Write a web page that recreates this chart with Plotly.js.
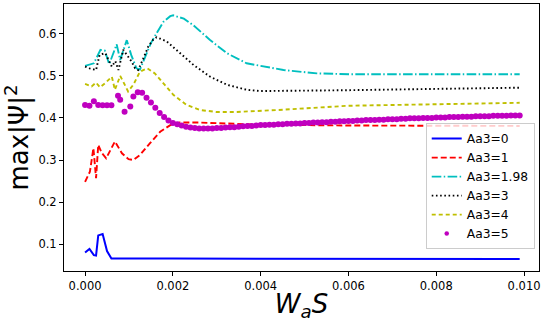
<!DOCTYPE html>
<html>
<head>
<meta charset="utf-8">
<script src="https://cdn.plot.ly/plotly-3.0.1.min.js"></script>
<style>
  html, body { margin: 0; padding: 0; background: #fff; }
  #plot { width: 546px; height: 322px; }
</style>
</head>
<body>
<div id="plot"></div>
<script>
// Aa3 = 0
var x0 = [0, 0.0001, 0.0002, 0.00025, 0.0003, 0.0004, 0.0005, 0.0006, 0.002, 0.005, 0.0099];
var y0 = [0.080, 0.0886, 0.0738, 0.0726, 0.1207, 0.124, 0.0833, 0.0658, 0.0655, 0.065, 0.0645];

// Aa3 = 1
var x1 = [0, 0.00011, 0.00019, 0.00025, 0.0003, 0.00038, 0.00048, 0.00068, 0.00084, 0.00099,
  0.0011, 0.00125, 0.00148, 0.00171, 0.00194, 0.00216, 0.0026, 0.004, 0.006, 0.0099];
var y1 = [0.248, 0.272, 0.328, 0.257, 0.336, 0.317, 0.304, 0.344, 0.316, 0.302,
  0.300, 0.312, 0.340, 0.367, 0.383, 0.389, 0.389, 0.384, 0.382, 0.381];

// Aa3 = 1.98
var x2 = [0, 0.0002, 0.00035, 0.00045, 0.00055, 0.00072, 0.0008, 0.00095, 0.00105, 0.00117,
  0.00125, 0.00137, 0.0015, 0.00162, 0.00178, 0.00194, 0.00201, 0.00225, 0.00246, 0.00284,
  0.00323, 0.00368, 0.00452, 0.00528, 0.00603, 0.0099];
var y2 = [0.524, 0.530, 0.562, 0.560, 0.528, 0.575, 0.538, 0.585, 0.550, 0.518,
  0.515, 0.545, 0.578, 0.600, 0.628, 0.642, 0.644, 0.636, 0.621, 0.586,
  0.554, 0.530, 0.514, 0.506, 0.504, 0.504];

// Aa3 = 3
var x3 = [0, 0.0001, 0.00025, 0.00033, 0.00046, 0.00061, 0.00069, 0.00076, 0.00087, 0.00099,
  0.00106, 0.00114, 0.00121, 0.00133, 0.00144, 0.00155, 0.00163, 0.00186, 0.00216, 0.00247,
  0.00285, 0.00323, 0.00368, 0.004, 0.006, 0.0099];
var y3 = [0.522, 0.518, 0.514, 0.550, 0.554, 0.522, 0.535, 0.514, 0.562, 0.545,
  0.534, 0.518, 0.514, 0.542, 0.570, 0.586, 0.592, 0.582, 0.554, 0.526,
  0.498, 0.479, 0.467, 0.464, 0.466, 0.472];

// Aa3 = 4
var x4 = [0, 0.00015, 0.00025, 0.00034, 0.00046, 0.00061, 0.00068, 0.0008, 0.00087, 0.00098,
  0.0011, 0.00125, 0.00142, 0.00159, 0.00178, 0.00201, 0.00231, 0.00262, 0.003, 0.0034,
  0.0044, 0.006, 0.0099];
var y4 = [0.481, 0.475, 0.484, 0.473, 0.483, 0.498, 0.467, 0.500, 0.486, 0.463,
  0.479, 0.510, 0.518, 0.506, 0.483, 0.455, 0.431, 0.419, 0.414, 0.414,
  0.419, 0.429, 0.436];

// Aa3 = 5 (markers)
var x5 = [0, 0.0001, 0.0002, 0.0003, 0.0004, 0.0005, 0.0006, 0.00075, 0.0008, 0.0009,
  0.00103, 0.0011, 0.0012, 0.0013, 0.0014, 0.0015, 0.0016, 0.0017, 0.0018, 0.0019,
  0.0020, 0.0021, 0.0022, 0.0023, 0.0024, 0.0025, 0.0026, 0.0027, 0.0028, 0.0029,
  0.0030, 0.0031, 0.0032, 0.0033, 0.0034, 0.0035, 0.0036, 0.0037, 0.0038, 0.0039,
  0.0040, 0.0041, 0.0042, 0.0043, 0.0044, 0.0045, 0.0046, 0.0047, 0.0048, 0.0049,
  0.0050, 0.0051, 0.0052, 0.0053, 0.0054, 0.0055, 0.0056, 0.0057, 0.0058, 0.0059,
  0.0060, 0.0061, 0.0062, 0.0063, 0.0064, 0.0065, 0.0066, 0.0067, 0.0068, 0.0069,
  0.0070, 0.0071, 0.0072, 0.0073, 0.0074, 0.0075, 0.0076, 0.0077, 0.0078, 0.0079,
  0.0080, 0.0081, 0.0082, 0.0083, 0.0084, 0.0085, 0.0086, 0.0087, 0.0088, 0.0089,
  0.0090, 0.0091, 0.0092, 0.0093, 0.0094, 0.0095, 0.0096, 0.0097, 0.0098, 0.0099];
var y5 = [0.431, 0.429, 0.440, 0.431, 0.430, 0.430, 0.430, 0.453, 0.443, 0.415,
  0.427, 0.451, 0.461, 0.460, 0.448, 0.437, 0.424, 0.412, 0.402, 0.394,
  0.388, 0.385, 0.382, 0.379, 0.377, 0.376, 0.375, 0.375, 0.375, 0.375,
  0.376, 0.376, 0.377, 0.378, 0.378, 0.379, 0.380, 0.381, 0.381, 0.382,
  0.383, 0.383, 0.384, 0.384, 0.385, 0.385, 0.386, 0.386, 0.387, 0.387,
  0.388, 0.388, 0.389, 0.389, 0.390, 0.390, 0.391, 0.391, 0.392, 0.392,
  0.393, 0.393, 0.394, 0.394, 0.395, 0.395, 0.395, 0.396, 0.396, 0.397,
  0.397, 0.397, 0.398, 0.398, 0.399, 0.399, 0.399, 0.400, 0.400, 0.400,
  0.401, 0.401, 0.401, 0.402, 0.402, 0.402, 0.403, 0.403, 0.403, 0.404,
  0.404, 0.404, 0.404, 0.405, 0.405, 0.405, 0.405, 0.406, 0.406, 0.406];

var xTicks = [0, 0.002, 0.004, 0.006, 0.008, 0.010];
var yTicks = [0.1, 0.2, 0.3, 0.4, 0.5, 0.6];

var data = [
  { x: x0, y: y0, name: "Aa3=0", mode: "lines", type: "scatter",
    line: { color: "#0000ff", width: 2 } },
  { x: x1, y: y1, name: "Aa3=1", mode: "lines", type: "scatter",
    line: { color: "#ff0000", width: 1.9, dash: "6px,3px" } },
  { x: x2, y: y2, name: "Aa3=1.98", mode: "lines", type: "scatter",
    line: { color: "#00bfbf", width: 1.9, dash: "9.6px,2.4px,1.5px,2.4px" } },
  { x: x3, y: y3, name: "Aa3=3", mode: "lines", type: "scatter",
    line: { color: "#000000", width: 1.9, dash: "1.6px,2.6px" } },
  { x: x4, y: y4, name: "Aa3=4", mode: "lines", type: "scatter",
    line: { color: "#bfbf00", width: 1.9, dash: "4px,3px" } },
  { x: x5, y: y5, name: "Aa3=5", mode: "markers", type: "scatter", showlegend: false,
    marker: { color: "#bf00bf", size: 6 } },
  // legend entry only, with the smaller dot the reference legend shows
  { x: [null], y: [null], name: "Aa3=5", mode: "markers", type: "scatter",
    marker: { color: "#bf00bf", size: 4.5 } }
];

var layout = {
  width: 546,
  height: 322,
  margin: { l: 64, r: 7, t: 4, b: 51 },
  paper_bgcolor: "#ffffff",
  plot_bgcolor: "#ffffff",
  font: { family: "DejaVu Sans", color: "#000000", size: 12 },
  showlegend: true,
  legend: {
    x: 0.991, y: 0.082, xanchor: "right", yanchor: "bottom",
    bgcolor: "rgba(255,255,255,0.8)", bordercolor: "#cccccc", borderwidth: 1,
    font: { size: 12.3, family: "DejaVu Sans" },
    tracegroupgap: 0
  },
  xaxis: {
    range: [-0.00048, 0.01034],
    tickvals: xTicks,
    tickformat: ".3f",
    ticks: "outside", ticklen: 4, tickcolor: "#000", tickwidth: 1,
    showline: true, linecolor: "#000", linewidth: 1, mirror: true,
    showgrid: false, zeroline: false,
    tickfont: { size: 11.5 },
    title: { text: "<i>W<sub>a</sub>S</i>", font: { size: 26 }, standoff: 5 }
  },
  yaxis: {
    range: [0.036, 0.671],
    tickvals: yTicks,
    tickformat: ".1f",
    ticks: "outside", ticklen: 4, tickcolor: "#000", tickwidth: 1,
    showline: true, linecolor: "#000", linewidth: 1, mirror: true,
    showgrid: false, zeroline: false,
    tickfont: { size: 11.5 },
    title: { text: "max|Ψ|<sup>2</sup>", font: { size: 26 }, standoff: 6 }
  }
};

Plotly.newPlot("plot", data, layout, { staticPlot: true });
</script>
</body>
</html>
